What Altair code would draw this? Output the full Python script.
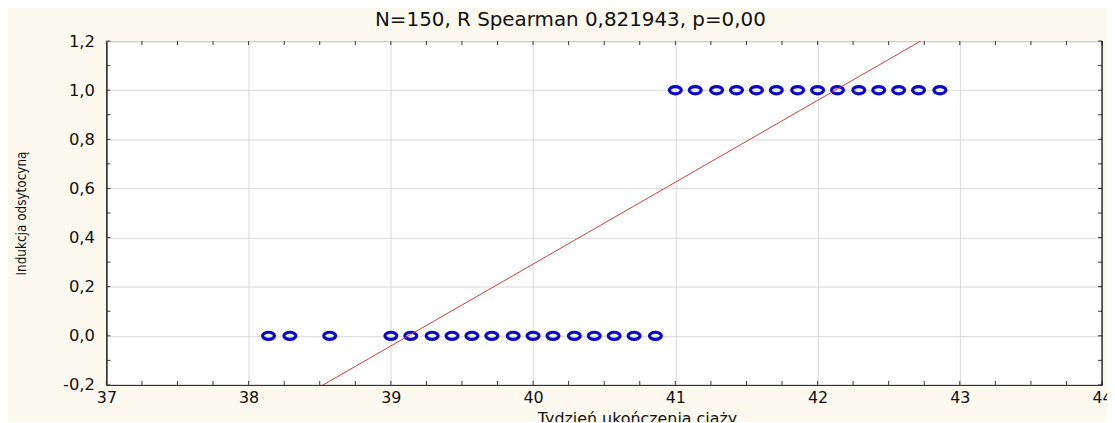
import altair as alt
import pandas as pd

# ---- data ----
weeks_no = [38.14, 38.29, 38.57, 39.00, 39.14, 39.29, 39.43, 39.57, 39.71,
            39.86, 40.00, 40.14, 40.29, 40.43, 40.57, 40.71, 40.86]
weeks_yes = [41.00, 41.14, 41.29, 41.43, 41.57, 41.71, 41.86, 42.00, 42.14,
             42.29, 42.43, 42.57, 42.71, 42.86]
value_no = 0.0
value_yes = 1.0
fit_intercept = [-13.04]
fit_slope = [0.3333]

title_text = "N=150, R Spearman 0,821943, p=0,00"
x_title = "Tydzień ukończenia ciąży"
y_title = "Indukcja odsytocyną"
x_tick_values = [37, 38, 39, 40, 41, 42, 43, 44]
y_tick_values = [-0.2, 0.0, 0.2, 0.4, 0.6, 0.8, 1.0, 1.2]
x_minor_values = [37 + 0.25 * i for i in range(29)]
y_minor_values = [round(-0.2 + 0.1 * i, 1) for i in range(15)]

# ---- tables ----
df = pd.DataFrame({
    "week": weeks_no + weeks_yes,
    "ind": [value_no] * len(weeks_no) + [value_yes] * len(weeks_yes),
})
xm = pd.DataFrame({"week": x_minor_values})
ym = pd.DataFrame({"ind": y_minor_values})

W, H = 1002, 346
xs = alt.Scale(domain=[37, 44], nice=False, zero=False)
ys = alt.Scale(domain=[-0.2, 1.2], nice=False, zero=False)

ellipse = "M -1 0 A 1 0.6 0 1 0 1 0 A 1 0.6 0 1 0 -1 0 Z"

x_axis = alt.Axis(
    title=x_title, values=x_tick_values, grid=True, gridColor="#d9d9d9",
    ticks=False, tickSize=0, labelPadding=5, labelFlush=False, labelOverlap=False,
    labelFont="DejaVu Sans", labelFontSize=16, labelColor="#111",
    domainColor="#222", domainWidth=1,
    titleFont="DejaVu Sans", titleFontSize=16, titleFontWeight="normal",
    titleColor="#111", titleX=534, titleY=26, titleBaseline="top", titleAlign="center",
)
y_axis = alt.Axis(
    title=y_title, values=y_tick_values, grid=True, gridColor="#d9d9d9",
    ticks=False, tickSize=0, labelPadding=12, labelFlush=False, labelOverlap=False,
    labelFont="DejaVu Sans", labelFontSize=16.5, labelColor="#111",
    labelExpr="replace(replace(format(datum.value, '.1f'), '.', ','), '\u2212', '-')",
    domainColor="#000", domainWidth=1.2,
    titleFont="Liberation Sans Narrow, DejaVu Sans Condensed, sans-serif",
    titleFontSize=13.5, titleFontWeight="normal", titleColor="#111",
    titleX=-85, titleY=173, titleAngle=-90, titleBaseline="middle", titleAlign="center",
)

X = alt.X("week:Q", scale=xs, axis=x_axis)
Y = alt.Y("ind:Q", scale=ys, axis=y_axis)

points = alt.Chart(df).mark_point(
    shape=ellipse, size=144, filled=False, strokeWidth=3.2,
    color="#0a0ac8", opacity=1,
).encode(x=X, y=Y)

fit_line = alt.Chart(df).transform_calculate(
    fit=f"{fit_intercept[0]} + {fit_slope[0]} * datum.week"
).mark_line(clip=True, color="#c84040", strokeWidth=1).encode(
    x=X,
    y=alt.Y("fit:Q", scale=ys, axis=y_axis),
)

tick_color = "#333"
bottom_ticks = alt.Chart(xm).mark_rule(color=tick_color, strokeWidth=1).encode(
    x=X, y=alt.value(H), y2=alt.value(H - 4))
top_ticks = alt.Chart(xm).mark_rule(color=tick_color, strokeWidth=1).encode(
    x=X, y=alt.value(0), y2=alt.value(4))
left_ticks = alt.Chart(ym).mark_rule(color=tick_color, strokeWidth=1).encode(
    y=Y, x=alt.value(0), x2=alt.value(4))
right_ticks = alt.Chart(ym).mark_rule(color=tick_color, strokeWidth=1).encode(
    y=Y, x=alt.value(W), x2=alt.value(W - 4))
right_border = alt.Chart(pd.DataFrame({"v": [0]})).mark_rule(
    color="#000", strokeWidth=1.2
).encode(x=alt.value(W), y=alt.value(0), y2=alt.value(H))

chart = alt.layer(
    points, fit_line, bottom_ticks, top_ticks, left_ticks, right_ticks, right_border
).properties(
    width=W, height=H,
    padding={"left": 99, "top": 32, "right": 5, "bottom": 36},
    autosize=alt.AutoSizeParams(type="none"),
    background="#fcf9ef",
    title=alt.TitleParams(
        text=title_text, font="DejaVu Sans", fontSize=20, fontWeight="normal",
        color="#111", anchor="middle", dx=-34, dy=29, baseline="bottom", offset=12,
    ),
).configure_view(fill="white", stroke="#666", strokeWidth=1)

chart.save("out.html", embed_options={"renderer": "svg", "actions": False})
